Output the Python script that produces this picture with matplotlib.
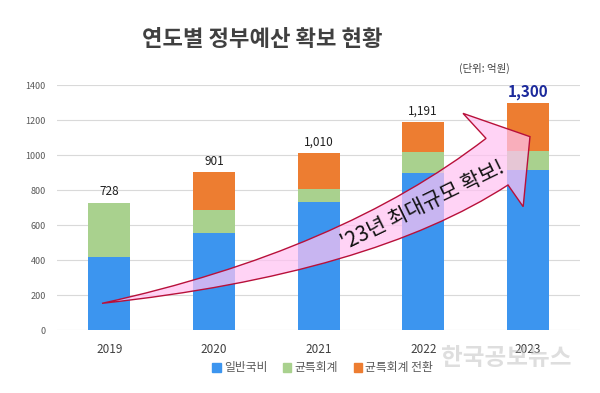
import matplotlib
import matplotlib.pyplot as plt
import numpy as np
from matplotlib.path import Path
from matplotlib.patches import PathPatch, Patch

matplotlib.use('Agg')

plt.rcParams['font.family'] = ['Noto Sans CJK KR', 'DejaVu Sans']

# 연도별 예산 (단위: 억원)
years = ['2019', '2020', '2021', '2022', '2023']
general = [420, 555, 730, 897, 914]      # 일반국비
special = [308, 130, 78, 118, 108]       # 균특회계
converted = [0, 216, 202, 176, 278]      # 균특회계 전환
totals = [728, 901, 1010, 1191, 1300]

series_names = ['일반국비', '균특회계', '균특회계 전환']
colors = ['#3C95EF', '#A9D18E', '#ED7D31']

fig = plt.figure(figsize=(6, 3.93), dpi=100)
ax = fig.add_axes([0.095, 0.160, 0.872, 0.6237])

x = np.arange(len(years))
w = 0.4
ax.bar(x, general, w, color=colors[0], zorder=2)
ax.bar(x, special, w, bottom=general, color=colors[1], zorder=2)
bottom2 = np.array(general) + np.array(special)
ax.bar(x, converted, w, bottom=bottom2, color=colors[2], zorder=2)

ax.set_xlim(-0.5, len(years) - 0.5)
ax.set_ylim(0, 1400)
ax.set_yticks(np.arange(0, 1401, 200))
ax.grid(axis='y', color='#D9D9D9', lw=0.8, zorder=0)
for s in ax.spines.values():
    s.set_visible(False)
ax.tick_params(axis='y', length=0, labelsize=6.5, labelcolor='#595959', pad=8)
ax.tick_params(axis='x', length=0, labelsize=8.5, labelcolor='#404040', pad=9)
ax.set_xticks(x)
ax.set_xticklabels(years)

# 합계 라벨
for i, t in enumerate(totals):
    if i == len(totals) - 1:
        ax.annotate(f'{t:,}', (x[i], t), xytext=(0, 2), textcoords='offset points',
                    ha='center', va='bottom', fontsize=11, fontweight='bold', color='#1C2A9C')
    else:
        ax.annotate(f'{t:,}', (x[i], t), xytext=(0, 3), textcoords='offset points',
                    ha='center', va='bottom', fontsize=8.5, color='#202020')

# 큰 화살표
verts = [(-0.07, 153), (2.2, 450), (3.60, 1095),
         (3.38, 1238), (4.02, 1105), (3.955, 705), (3.81, 829),
         (2.5, 320), (-0.07, 153), (-0.07, 153)]
codes = [Path.MOVETO, Path.CURVE3, Path.CURVE3,
         Path.LINETO, Path.LINETO, Path.LINETO, Path.LINETO,
         Path.CURVE3, Path.CURVE3, Path.CLOSEPOLY]
arrow = PathPatch(Path(verts, codes), facecolor=(1.0, 0.76, 0.95, 0.72),
                  edgecolor='#B8103A', lw=1.0, zorder=4, clip_on=False)
ax.add_patch(arrow)
ax.text(3.0, 712, "'23년 최대규모 확보!", rotation=26, rotation_mode='anchor',
        ha='center', va='center', fontsize=15, color='#111111', zorder=5)

fig.text(0.437, 1 - 40 / 393, '연도별 정부예산 확보 현황', ha='center', va='center',
         fontsize=16, fontweight='bold', color='#404040')
fig.text(0.807, 1 - 68 / 393, '(단위: 억원)', ha='center', va='center',
         fontsize=7.5, color='#404040')

handles = [Patch(color=c) for c in colors]
fig.legend(handles, series_names, loc='center', bbox_to_anchor=(0.538, 1 - 368 / 393),
           ncol=3, frameon=False, fontsize=8.5, labelcolor='#595959',
           handlelength=0.7, handleheight=0.7, handletextpad=0.3, columnspacing=1.3)

# 워터마크
fig.text(0.843, 1 - 358 / 393, '한국공보뉴스', ha='center', va='center',
         fontsize=17, color='#C4C4C4', alpha=0.55, fontweight='bold')

fig.savefig('out.png', dpi=100)
